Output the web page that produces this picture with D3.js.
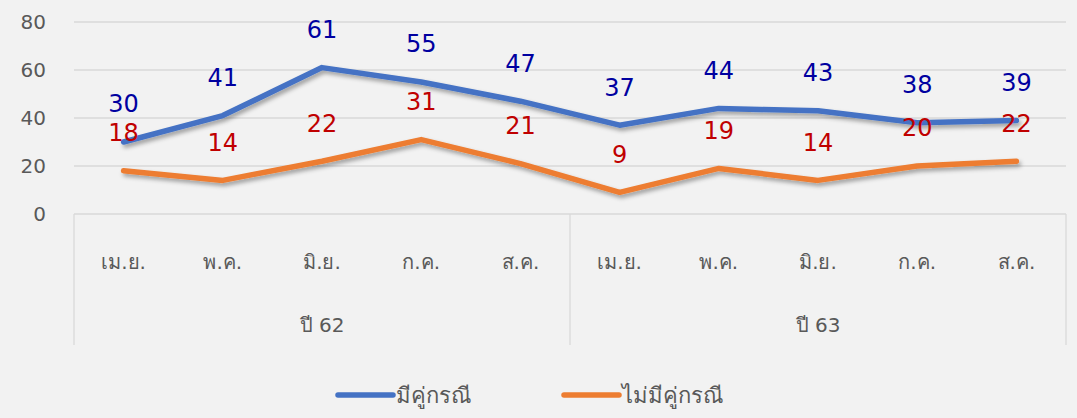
<!DOCTYPE html>
<html>
<head>
<meta charset="utf-8">
<script src="https://cdn.jsdelivr.net/npm/d3@7"></script>
<style>
  body { margin: 0; background: #f2f2f2; }
  svg { display: block; font-family: Tahoma, "DejaVu Sans", "Noto Sans", sans-serif; }
</style>
</head>
<body>
<div id="chart"></div>
<script>
// data
var months = ["เม.ย.", "พ.ค.", "มิ.ย.", "ก.ค.", "ส.ค."];
var years = ["ปี 62", "ปี 63"];
var withParty = [30, 41, 61, 55, 47, 37, 44, 43, 38, 39];
var withoutParty = [18, 14, 22, 31, 21, 9, 19, 14, 20, 22];
var seriesNames = ["มีคู่กรณี", "ไม่มีคู่กรณี"];
var yTicks = [0, 20, 40, 60, 80];

var width = 1077, height = 418;
var margin = {top: 22, right: 11, bottom: 204, left: 74};
var w = width - margin.left - margin.right;
var h = height - margin.top - margin.bottom;

var cats = [];
years.forEach(function(y, yi) {
    months.forEach(function(m, mi) { cats.push(yi + "-" + mi); });
});

var x = d3.scaleBand().domain(cats).range([0, w]);
var y = d3.scaleLinear().domain([0, 80]).range([h, 0]);

var svg = d3.select("#chart").append("svg")
    .attr("width", width)
    .attr("height", height);

var defs = svg.append("defs");
defs.append("filter").attr("id", "shadow")
    .attr("x", "-5%").attr("y", "-50%").attr("width", "110%").attr("height", "200%")
    .append("feDropShadow")
    .attr("dx", 2).attr("dy", 3).attr("stdDeviation", 2.2)
    .attr("flood-color", "#000").attr("flood-opacity", 0.35);

var g = svg.append("g")
    .attr("transform", "translate(" + margin.left + "," + margin.top + ")");

// gridlines
g.selectAll(".grid").data(yTicks.filter(function(d) { return d > 0; })).enter()
    .append("line")
    .attr("x1", 0).attr("x2", w)
    .attr("y1", function(d) { return y(d); })
    .attr("y2", function(d) { return y(d); })
    .attr("stroke", "#d9d9d9").attr("stroke-width", 1.3);

// y labels
g.selectAll(".ylab").data(yTicks).enter()
    .append("text")
    .attr("x", -28).attr("y", function(d) { return y(d); })
    .attr("dy", "0.35em")
    .attr("text-anchor", "end")
    .attr("fill", "#595959")
    .style("font-size", "20px")
    .text(function(d) { return d; });

// category axis (multi level)
var axisBottom = h + 131;
g.append("line")
    .attr("x1", 0).attr("x2", w).attr("y1", h).attr("y2", h)
    .attr("stroke", "#d9d9d9").attr("stroke-width", 1.3);
var dividers = [0, months.length, cats.length];
g.selectAll(".div").data(dividers).enter()
    .append("line")
    .attr("x1", function(d) { return d < cats.length ? x(cats[d]) : w; })
    .attr("x2", function(d) { return d < cats.length ? x(cats[d]) : w; })
    .attr("y1", h).attr("y2", axisBottom)
    .attr("stroke", "#d9d9d9").attr("stroke-width", 1.3);

g.selectAll(".mlab").data(cats).enter()
    .append("text")
    .attr("x", function(d) { return x(d) + x.bandwidth() / 2; })
    .attr("y", h + 48)
    .attr("dy", "0.35em")
    .attr("text-anchor", "middle")
    .attr("fill", "#595959")
    .style("font-size", "20px")
    .text(function(d) { return months[+d.split("-")[1]]; });

g.selectAll(".ylab2").data(years).enter()
    .append("text")
    .attr("x", function(d, i) {
        return (x(cats[i * months.length]) + x(cats[i * months.length + months.length - 1]) + x.bandwidth()) / 2;
    })
    .attr("y", h + 111)
    .attr("dy", "0.35em")
    .attr("text-anchor", "middle")
    .attr("fill", "#595959")
    .style("font-size", "20px")
    .text(function(d) { return d; });

// lines
var line = d3.line()
    .x(function(d, i) { return x(cats[i]) + x.bandwidth() / 2; })
    .y(function(d) { return y(d); });

var series = [
    {name: seriesNames[0], values: withParty, color: "#4472c4", label: "#0000a0"},
    {name: seriesNames[1], values: withoutParty, color: "#ed7d31", label: "#c00000"}
];

series.slice().reverse().forEach(function(s) {
    g.append("path")
        .datum(s.values)
        .attr("fill", "none")
        .attr("stroke", s.color)
        .attr("stroke-width", 5.5)
        .attr("stroke-linejoin", "round")
        .attr("stroke-linecap", "round")
        .attr("filter", "url(#shadow)")
        .attr("d", line);
});

series.forEach(function(s) {
    g.selectAll(null).data(s.values).enter()
        .append("text")
        .attr("x", function(d, i) { return x(cats[i]) + x.bandwidth() / 2; })
        .attr("y", function(d) { return y(d) - 38; })
        .attr("dy", "0.35em")
        .attr("text-anchor", "middle")
        .attr("fill", s.label)
        .style("font-size", "24px")
        .text(function(d) { return d; });
});

// legend
var legend = svg.append("g").attr("transform", "translate(0,395)");
var legX = [338, 564];
series.forEach(function(s, i) {
    legend.append("line")
        .attr("x1", legX[i]).attr("x2", legX[i] + 55)
        .attr("y1", 0).attr("y2", 0)
        .attr("stroke", s.color).attr("stroke-width", 5.5)
        .attr("stroke-linecap", "round");
    legend.append("text")
        .attr("x", legX[i] + 58).attr("y", 0)
        .attr("dy", "0.35em")
        .attr("fill", "#595959")
        .style("font-size", "22px")
        .text(s.name);
});
</script>
</body>
</html>
